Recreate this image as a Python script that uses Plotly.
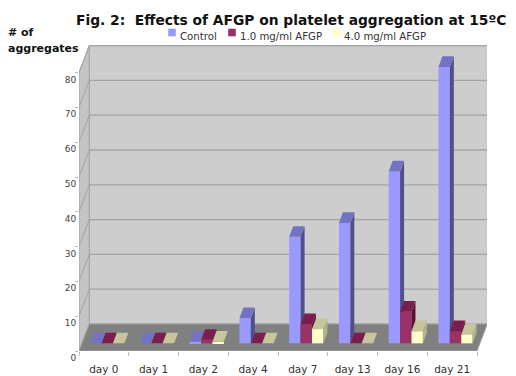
import plotly.graph_objects as go

days = ["day 0", "day 1", "day 2", "day 4", "day 7", "day 13", "day 16", "day 21"]
control = [0, 0, 0.5, 7.2, 30.6, 34.6, 49.4, 79.4]
afgp_1 = [0, 0, 1.0, 0, 5.5, 0, 9.1, 3.5]
afgp_4 = [0, 0, 0.5, 0, 4.1, 0, 3.5, 2.6]
y_ticks = [0, 10, 20, 30, 40, 50, 60, 70, 80]

series = [
    ("Control", control, "#9999FF", "#7373C2", "#4F4F8C"),
    ("1.0 mg/ml AFGP", afgp_1, "#993366", "#7A1F4D", "#5C1238"),
    ("4.0 mg/ml AFGP", afgp_4, "#FFFFCC", "#C8C59C", "#B5B28A"),
]

PAGE = 8  # default page margin of the browser
W, H = 516 - PAGE, 376 - PAGE
L, R, T, B = 79 - PAGE, 29, 45 - PAGE, 25
PX_X = 49.75
PX_Y = 3.48
x_range = [-0.5, -0.5 + (W - L - R) / PX_X]
y_range = [0, (H - T - B) / PX_Y]

WALL_DX, WALL_DY = 10.3 / PX_X, 27.0 / PX_Y
BAR_DX, BAR_DY = 4.0 / PX_X, 10.7 / PX_Y
FLOOR = 2.2
BAR_W = 11.4 / PX_X
BAR_START = -13.7 / PX_X
centers = list(range(len(days)))
n = len(days)


def poly(pts):
    return "M " + " L ".join(f"{a:.4f} {b:.4f}" for a, b in pts) + " Z"


def px(xp):
    return (xp - PAGE - L) / (W - L - R)


def py(yp):
    return 1 - (yp - PAGE - T) / (H - T - B)


x0, x1 = -0.5, n - 0.5
ymax = 80
shapes = [
    dict(type="path", path=poly([(x0 + WALL_DX, WALL_DY), (x1 + WALL_DX, WALL_DY),
                                 (x1 + WALL_DX, ymax + WALL_DY), (x0 + WALL_DX, ymax + WALL_DY)]),
         fillcolor="#CDCDCD", line=dict(color="#A3A3A3", width=1), layer="below"),
    dict(type="path", path=poly([(x0, 0), (x0 + WALL_DX, WALL_DY),
                                 (x0 + WALL_DX, ymax + WALL_DY), (x0, ymax)]),
         fillcolor="#C4C4C4", line=dict(color="#A3A3A3", width=1), layer="below"),
    dict(type="path", path=poly([(x0, 0), (x1, 0), (x1 + WALL_DX, WALL_DY), (x0 + WALL_DX, WALL_DY)]),
         fillcolor="#808080", line=dict(color="#A0A0A0", width=1), layer="below"),
]
for v in y_ticks[1:]:
    shapes.append(dict(type="line", x0=x0 + WALL_DX, x1=x1 + WALL_DX, y0=v + WALL_DY, y1=v + WALL_DY,
                       line=dict(color="#A3A3A3", width=1.3), layer="below"))
    shapes.append(dict(type="line", x0=x0, x1=x0 + WALL_DX, y0=v, y1=v + WALL_DY,
                       line=dict(color="#A3A3A3", width=1), layer="below"))

fig = go.Figure()
annotations = []
legend_x = [172, 232, 336.5]
text_x = [179, 239, 343]
for k, (name, vals, front, top, side) in enumerate(series):
    suffix = "" if k == 0 else str(k + 1)
    xa, ya = "x" + suffix, "y" + suffix
    off = BAR_START + k * BAR_W
    tx, ty, sx, sy = [], [], [], []
    for c, v in zip(centers, vals):
        a = c + off
        b = a + BAR_W
        h = FLOOR + v
        tx += [a, b, b + BAR_DX, a + BAR_DX, a, None]
        ty += [h, h, h + BAR_DY, h + BAR_DY, h, None]
        sx += [b, b + BAR_DX, b + BAR_DX, b, b, None]
        sy += [FLOOR, FLOOR + BAR_DY, h + BAR_DY, h, FLOOR, None]
    fig.add_trace(go.Bar(x=centers, y=vals, base=FLOOR, width=BAR_W, offset=off, name=name,
                         marker=dict(color=front, line=dict(width=0)), xaxis=xa, yaxis=ya,
                         showlegend=False))
    fig.add_trace(go.Scatter(x=sx, y=sy, mode="lines", fill="toself", fillcolor=side,
                             line=dict(width=0), hoverinfo="skip", xaxis=xa, yaxis=ya, showlegend=False))
    fig.add_trace(go.Scatter(x=tx, y=ty, mode="lines", fill="toself", fillcolor=top,
                             line=dict(width=0), hoverinfo="skip", xaxis=xa, yaxis=ya, showlegend=False))
    shapes.append(dict(type="rect", xref="paper", yref="paper",
                       x0=px(legend_x[k] - 3.8), x1=px(legend_x[k] + 3.8),
                       y0=py(32.5 + 3.8), y1=py(32.5 - 3.8),
                       fillcolor=front, line=dict(width=0)))
    annotations.append(dict(text=name, xref="paper", yref="paper", x=px(text_x[k]), y=py(36.5),
                            xanchor="left", yanchor="middle", showarrow=False, xshift=-1,
                            font=dict(family="DejaVu Sans", size=10.2, color="#333333")))

annotations.append(dict(text="# of", xref="paper", yref="paper", x=px(6), y=py(32.5), xanchor="left",
                        yanchor="middle", showarrow=False,
                        font=dict(family="DejaVu Sans", size=11, color="#111111", weight="bold")))
annotations.append(dict(text="aggregates", xref="paper", yref="paper", x=px(6), y=py(49), xanchor="left",
                        yanchor="middle", showarrow=False,
                        font=dict(family="DejaVu Sans", size=11, color="#111111", weight="bold")))

fig.update_layout(
    width=W, height=H, autosize=False,
    margin=dict(l=L, r=R, t=T, b=B),
    paper_bgcolor="white", plot_bgcolor="white",
    barmode="overlay", showlegend=False,
    title=dict(text="Fig. 2:\u00a0\u00a0Effects of AFGP on platelet aggregation at 15ºC",
               x=(76 - PAGE) / W, xanchor="left", y=1 - (20 - PAGE) / H, yanchor="middle",
               font=dict(family="DejaVu Sans", size=13.8, color="#111111", weight="bold")),
    xaxis=dict(range=x_range, tickmode="array", tickvals=centers, ticktext=days,
               ticks="outside", ticklen=8, tickcolor="rgba(0,0,0,0)",
               showgrid=False, zeroline=False, showline=False, automargin=False,
               tickfont=dict(family="DejaVu Sans", size=10.5, color="#333333"),
               minor=dict(tickmode="array", tickvals=[x0 + i for i in range(n + 1)], ticks="outside",
                          ticklen=4, tickcolor="#BBBBBB", showgrid=False)),
    yaxis=dict(range=y_range, tickmode="array", tickvals=y_ticks,
               ticks="outside", ticklen=7, tickcolor="rgba(0,0,0,0)",
               showgrid=False, zeroline=False, showline=False,
               ticklabelposition="outside bottom", automargin=False,
               tickfont=dict(family="DejaVu Sans", size=9, color="#444444"),
               minor=dict(tickmode="array", tickvals=y_ticks, ticks="outside",
                          ticklen=3, tickcolor="#BBBBBB", showgrid=False)),
    xaxis2=dict(range=x_range, overlaying="x", visible=False),
    yaxis2=dict(range=y_range, overlaying="y", visible=False),
    xaxis3=dict(range=x_range, overlaying="x", visible=False),
    yaxis3=dict(range=y_range, overlaying="y", visible=False),
    shapes=shapes, annotations=annotations,
)
fig.write_html("out.html")
